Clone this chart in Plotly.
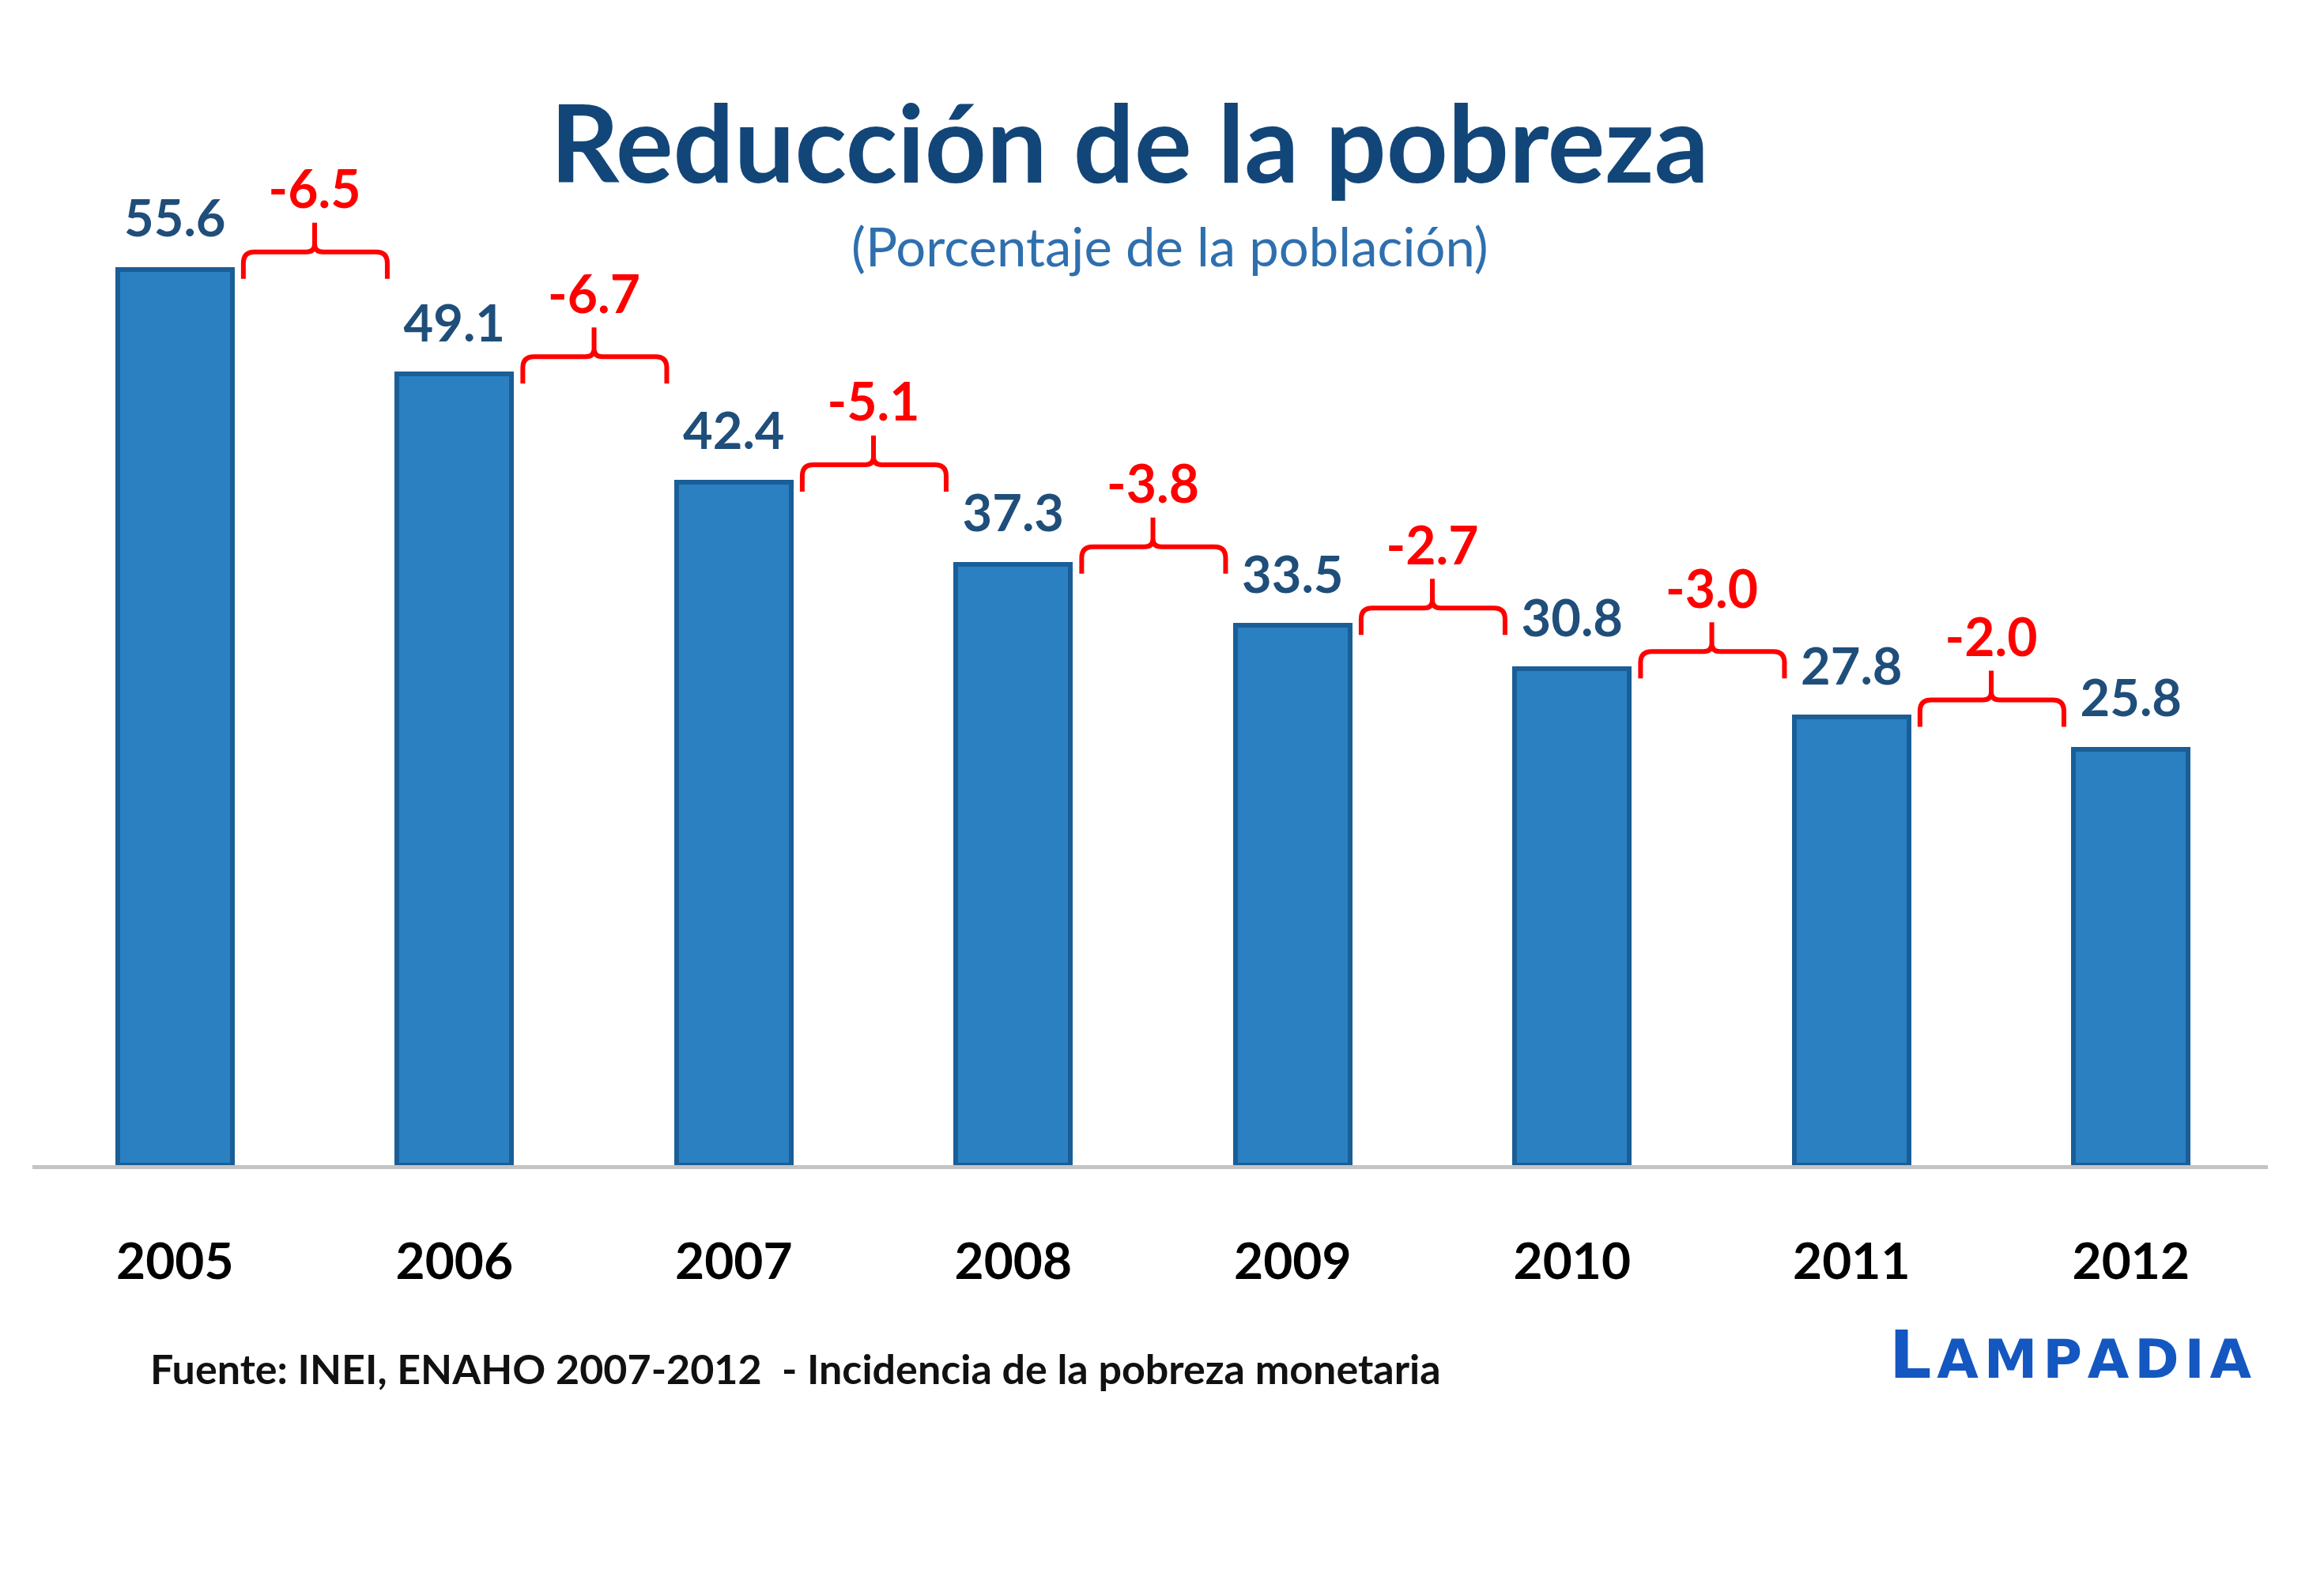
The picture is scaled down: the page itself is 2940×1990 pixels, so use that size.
import plotly.graph_objects as go

# ---- data ----
years = ["2005", "2006", "2007", "2008", "2009", "2010", "2011", "2012"]
poverty = [55.6, 49.1, 42.4, 37.3, 33.5, 30.8, 27.8, 25.8]
changes = [-6.5, -6.7, -5.1, -3.8, -2.7, -3.0, -2.0]

title_text = "Reducción de la pobreza"
subtitle_text = "(Porcentaje de la población)"
source_text = "Fuente: INEI, ENAHO 2007-2012  - Incidencia de la pobreza monetaria"

# ---- geometry ----
W, H = 2940, 1990
ML, MR, MT, MB = 41, 71, 100, 516
PX_PER_UNIT = 20.38
plot_h = H - MT - MB
y_max = plot_h / PX_PER_UNIT
idx = list(range(len(years)))

def px_y(py):
    return (H - MB - py) / plot_h

def px_x(px):
    return (px - ML) / (W - ML - MR)

FONT = "Lato"
BAR_FILL = "#2A80C1"
BAR_EDGE = "#1A5E97"
VAL_COLOR = "#1F4E7A"
RED = "#FF0000"

fig = go.Figure()

fig.add_trace(go.Bar(
    x=idx, y=poverty, width=0.41,
    marker=dict(color=BAR_FILL, line=dict(color=BAR_EDGE, width=6)),
    hoverinfo="skip", showlegend=False,
))

# value labels above bars
fig.add_trace(go.Scatter(
    x=idx, y=[v + 58 / PX_PER_UNIT for v in poverty],
    mode="text", text=[f"{v:.1f}" for v in poverty],
    textposition="middle center",
    textfont=dict(family=FONT, size=65, color=VAL_COLOR, weight="bold"),
    hoverinfo="skip", showlegend=False,
))

# change labels
mid_x = [i + 0.5 for i in range(len(changes))]
fig.add_trace(go.Scatter(
    x=mid_x, y=[poverty[i] + 94 / PX_PER_UNIT for i in range(len(changes))],
    mode="text", text=[f"{c:.1f}" for c in changes],
    textposition="middle center",
    textfont=dict(family=FONT, size=66, color=RED, weight="bold"),
    hoverinfo="skip", showlegend=False,
))

# braces
shapes = []
for i in range(len(changes)):
    y0 = poverty[i]
    x0, x1, xm = i + 0.245, i + 0.76, i + 0.5
    yh = y0 + 22 / PX_PER_UNIT
    yb = y0 - 12 / PX_PER_UNIT
    yt = yh + 37 / PX_PER_UNIT
    rx, ry = 0.04, 14 / PX_PER_UNIT
    rx2, ry2 = 0.03, 10 / PX_PER_UNIT
    path = (
        f"M {x0},{yb} L {x0},{yh - ry} Q {x0},{yh} {x0 + rx},{yh} "
        f"L {xm - rx2},{yh} Q {xm},{yh} {xm},{yh + ry2} L {xm},{yt} "
        f"M {xm},{yh + ry2} Q {xm},{yh} {xm + rx2},{yh} "
        f"L {x1 - rx},{yh} Q {x1},{yh} {x1},{yh - ry} L {x1},{yb}"
    )
    shapes.append(dict(type="path", path=path, xref="x", yref="y",
                       line=dict(color=RED, width=6), layer="above"))

sp = "\u200a"
logo_rest = sp + sp.join("AMPADIA")

annotations = [
    dict(text=title_text, x=px_x(1429), y=px_y(178), xref="paper", yref="paper",
         xanchor="center", yanchor="middle", showarrow=False,
         font=dict(family=FONT, size=136, color="#124679", weight="bold")),
    dict(text=subtitle_text, x=px_x(1480), y=px_y(311), xref="paper", yref="paper",
         xanchor="center", yanchor="middle", showarrow=False,
         font=dict(family=FONT, size=67, color="#2E6FAE")),
    dict(text=source_text, x=px_x(188), y=px_y(1731), xref="paper", yref="paper",
         xanchor="left", yanchor="middle", showarrow=False,
         font=dict(family=FONT, size=52, color="#111111", weight="bold")),
    dict(text="L<span style='font-size:68px'>" + logo_rest + "</span>", x=px_x(2850), y=px_y(1714),
         xref="paper", yref="paper", xanchor="right", yanchor="middle", showarrow=False,
         font=dict(family="DejaVu Sans", size=84, color="#1457C0", weight="bold")),
]

fig.update_layout(
    width=W, height=H,
    margin=dict(l=ML, r=MR, t=MT, b=MB, pad=0),
    paper_bgcolor="white", plot_bgcolor="white",
    shapes=shapes, annotations=annotations,
    bargap=0,
    xaxis=dict(
        range=[-0.51, 7.49], tickmode="array", tickvals=idx, ticktext=years,
        showgrid=False, zeroline=False, showline=True, linecolor="#C4C4C4", linewidth=5,
        ticks="", tickfont=dict(family=FONT, size=64, color="#000000", weight="bold"),
        ticklabelstandoff=62,
    ),
    yaxis=dict(range=[0, y_max], visible=False, showgrid=False, zeroline=False),
)

fig.write_html("out.html")
